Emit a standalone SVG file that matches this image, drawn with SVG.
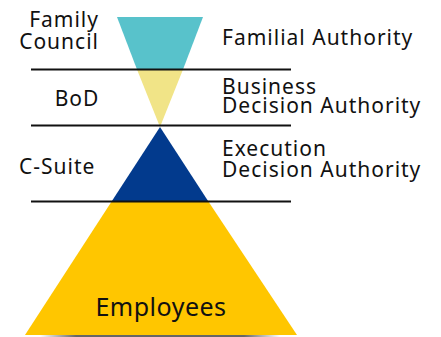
<svg xmlns="http://www.w3.org/2000/svg" width="441" height="337" viewBox="0 0 441 337">
<defs>
<linearGradient id="sh" x1="0" y1="0" x2="1" y2="0">
<stop offset="0" stop-color="#000" stop-opacity="0"/>
<stop offset="0.15" stop-color="#000" stop-opacity="0.6"/>
<stop offset="0.85" stop-color="#000" stop-opacity="0.6"/>
<stop offset="1" stop-color="#000" stop-opacity="0"/>
</linearGradient>
</defs>
<style>
text{font-family:"Noto Sans","Open Sans",sans-serif;font-size:21px;letter-spacing:1px;fill:#111}
.big{font-size:25px;letter-spacing:0.5px}
.ln{stroke:#111;stroke-width:2}
</style>
<rect width="441" height="337" fill="#fff"/>
<g id="shadow"><rect x="40" y="334" width="240" height="3" fill="url(#sh)"/></g>
<g id="family"><polygon points="117,17 203,17 183,69.5 137,69.5" fill="#58C2CB"/></g>
<g id="bod"><polygon points="137,69.5 183,69.5 160,127" fill="#F1E487"/></g>
<g id="csuite"><polygon points="160,127 208.4,201.5 111.6,201.5" fill="#023A8D"/></g>
<g id="employees"><polygon points="111.6,201.5 208.4,201.5 297,335 25,335" fill="#FFC600"/>
<text class="big" x="161" y="316" text-anchor="middle">Employees</text></g>
<g id="connectors">
<line class="ln" x1="31" y1="69.5" x2="291" y2="69.5"/>
<line class="ln" x1="31" y1="125.5" x2="291" y2="125.5"/>
<line class="ln" x1="31" y1="201.5" x2="291" y2="201.5"/>
</g>
<g id="labels">
<text x="99" y="27" text-anchor="end">Family</text>
<text x="99" y="49" text-anchor="end">Council</text>
<text x="77" y="106" text-anchor="middle">BoD</text>
<text x="19" y="174">C-Suite</text>
<text x="222" y="44.5">Familial Authority</text>
<text x="222" y="93.5">Business</text>
<text x="222" y="113">Decision Authority</text>
<text x="222" y="156">Execution</text>
<text x="222" y="177">Decision Authority</text>
</g>
</svg>
